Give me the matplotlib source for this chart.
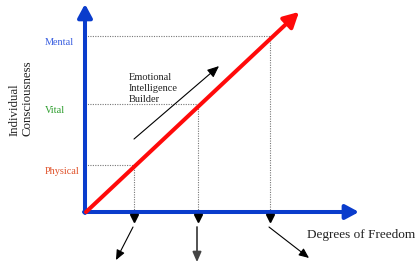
import matplotlib
matplotlib.use('Agg')
import matplotlib.pyplot as plt
from matplotlib.patches import FancyArrowPatch

# Datos del diagrama (unidades: grados de libertad / consciencia)
levels = ['Physical', 'Vital', 'Mental']
level_freedom = [2.45, 5.65, 9.25]
level_consc = [2.47, 5.68, 9.26]
level_colors = ['#e0522a', '#2e9e2e', '#3a5fe0']

growth_end = (10.7, 10.53)           # punta de la flecha roja
y_axis_end = 10.95
x_axis_end = 13.7

out_start_y = -0.79
out_end_x = [1.55, 5.6, 11.2]
out_end_y = [-2.53, -2.64, -2.42]

ei_start = (2.45, 3.84)
ei_end = (6.7, 7.68)

plt.rcParams['font.family'] = ['Liberation Serif', 'DejaVu Serif']

fig = plt.figure(figsize=(4.17, 2.63), dpi=100)
ax = fig.add_axes([0, 0, 1, 1])
ax.set_xlim(-4.25, 16.6)
ax.set_ylim(-2.684, 11.158)
ax.axis('off')

blue = '#0a3ccc'

def arrow(p0, p1, color, lw, hl, hw, z=3):
  a = FancyArrowPatch(p0, p1, arrowstyle=f'-|>,head_length={hl},head_width={hw}',
                      mutation_scale=1, color=color, lw=lw, shrinkA=0, shrinkB=0, zorder=z)
  ax.add_patch(a)

# Líneas punteadas de los niveles
for fx, cy in zip(level_freedom, level_consc):
  ax.plot([0, fx], [cy, cy], color='#777777', ls=(0, (1, 1.2)), lw=0.8, zorder=1)
  ax.plot([fx, fx], [0, cy], color='#777777', ls=(0, (1, 1.2)), lw=0.8, zorder=1)

# Ejes azules
arrow((0, -0.05), (0, y_axis_end), blue, 2.9, 8, 4.3)
arrow((-0.05, 0), (x_axis_end, 0), blue, 2.9, 8, 4.3)

# Flecha roja
arrow((0.05, 0.0), growth_end, '#ff0a0a', 2.9, 9, 4.8, z=4)

# Triángulos bajo el eje
ax.plot(level_freedom, [-0.3] * 3, ls='none', marker='v', color='black', ms=6, zorder=5)

# Flechas de salida
for sx, ex, ey, c, lw in zip(level_freedom, out_end_x, out_end_y,
                             ['black', '#444444', 'black'], [0.8, 1.3, 0.8]):
  arrow((sx - 0.05, out_start_y), (ex, ey), c, lw, 6, 2.6)

# Flecha "Emotional Intelligence Builder"
arrow(ei_start, ei_end, 'black', 0.8, 7, 3)

# Textos
for name, cy, c in zip(levels, level_consc, level_colors):
  ax.text(-2.0, cy - 0.35, name, color=c, fontsize=7.4, ha='left', va='center')

ax.text(2.2, 7.3, 'Emotional\nIntelligence\nBuilder', fontsize=7.5, color='#222222',
        ha='left', va='top', linespacing=1.25)
ax.text(11.1, -1.2, 'Degrees of Freedom', fontsize=9.5, color='#222222', ha='left', va='center')
ax.text(-3.2, 4.0, 'Individual\nConsciousness', fontsize=9.3, color='#222222', rotation=90,
        ha='center', va='bottom', multialignment='left', linespacing=1.2)

fig.savefig('out.png', dpi=100)
